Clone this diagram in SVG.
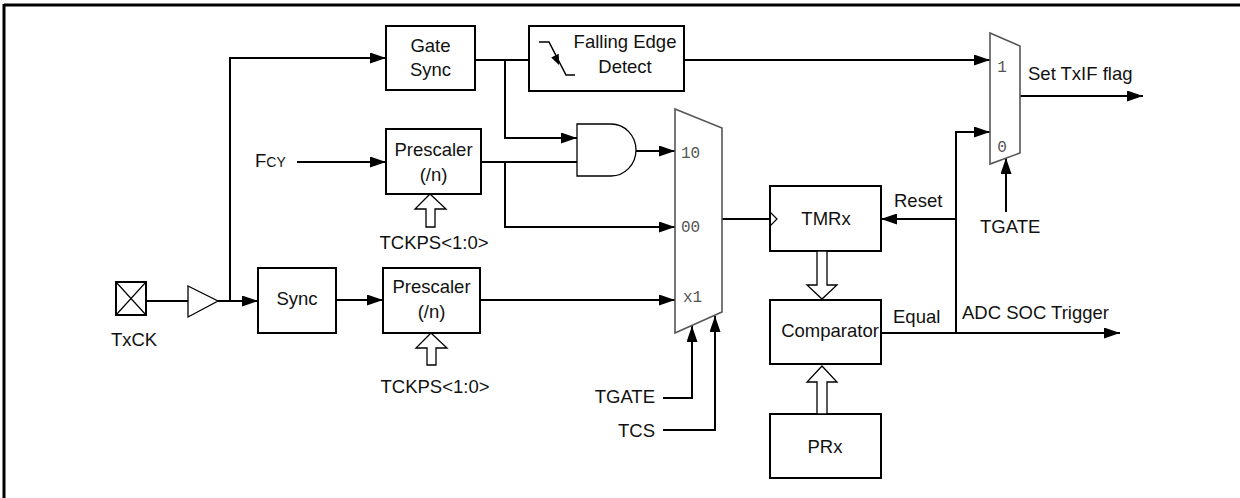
<svg xmlns="http://www.w3.org/2000/svg" width="1240" height="498" viewBox="0 0 1240 498">
<defs>
<marker id="ah" markerUnits="userSpaceOnUse" markerWidth="16" markerHeight="11" refX="16" refY="5.5" orient="auto">
<path d="M0,0 L16,5.5 L0,11 z" fill="#000"/>
</marker>
<style>
.t{font-family:"Liberation Sans",Arial,sans-serif;font-size:18.5px;fill:#111}
.m{font-family:"Liberation Mono","Courier New",monospace;font-size:16px;fill:#555}
.box{fill:#fff;stroke:#000;stroke-width:2}
.thin{fill:#fff;stroke:#000;stroke-width:1.3}
.mux{fill:#fff;stroke:#555;stroke-width:1.6}
.w{fill:none;stroke:#000;stroke-width:2}
.wa{fill:none;stroke:#000;stroke-width:2;marker-end:url(#ah)}
</style>
</defs>
<rect width="1240" height="498" fill="#fff"/>
<g id="frame">
<line x1="4" y1="5" x2="1240" y2="5" stroke="#000" stroke-width="3"/>
<line x1="4" y1="4" x2="4" y2="498" stroke="#000" stroke-width="3"/>
</g>
<g id="connectors">
<path class="w" d="M146,301 H188"/>
<path class="wa" d="M218,301 H258"/>
<path class="wa" d="M230,301 V58 H386"/>
<path class="wa" d="M297,162 H386"/>
<path class="wa" d="M336,300 H383"/>
<path class="w" d="M475,60 H529"/>
<path class="wa" d="M505,60 V138 H577"/>
<path class="wa" d="M684,60 H990"/>
<path class="w" d="M481,162 H577"/>
<path class="wa" d="M505,162 V227 H675"/>
<path class="wa" d="M636,151 H675"/>
<path class="wa" d="M480,300 H675"/>
<path class="wa" d="M663,398 H692 V326"/>
<path class="wa" d="M663,430 H715 V316"/>
<path class="w" d="M722,219 H770"/>
<path class="wa" d="M956,219 H881"/>
<path class="wa" d="M881,333 H1120"/>
<path class="wa" d="M956,333 V132 H990"/>
<path class="wa" d="M1020,96 H1143"/>
<path class="wa" d="M1006,212 V158"/>
</g>
<g id="txck">
<rect x="116" y="282" width="30" height="33" class="box"/>
<path d="M116,282 L146,315 M146,282 L116,315" stroke="#000" stroke-width="1.2"/>
<text class="t" x="134" y="346" text-anchor="middle">TxCK</text>
</g>
<g id="buffer">
<polygon points="188,286 218,301 188,317" class="thin"/>
</g>
<g id="gate-sync">
<rect x="386" y="26" width="89" height="64" class="box"/>
<text class="t" x="430.5" y="52" text-anchor="middle">Gate</text>
<text class="t" x="430.5" y="76" text-anchor="middle">Sync</text>
</g>
<g id="falling-edge">
<rect x="529" y="26" width="155" height="65" class="box"/>
<polyline points="539,42 549,42 566,75 575,75" fill="none" stroke="#000" stroke-width="1.5"/>
<polygon points="559,65 551.2,57.6 558.8,53.8" fill="#000"/>
<text class="t" x="625" y="48" text-anchor="middle">Falling Edge</text>
<text class="t" x="625" y="73" text-anchor="middle">Detect</text>
</g>
<g id="fcy">
<text class="t" x="255" y="167">F<tspan font-size="14">CY</tspan></text>
</g>
<g id="prescaler1">
<rect x="386" y="129" width="95" height="65" class="box"/>
<text class="t" x="433.5" y="156" text-anchor="middle">Prescaler</text>
<text class="t" x="433.5" y="181" text-anchor="middle">(/n)</text>
<polygon points="430,194 446,209 435,209 435,227 426,227 426,209 415,209" class="thin"/>
<text class="t" x="434" y="249" text-anchor="middle">TCKPS&lt;1:0&gt;</text>
</g>
<g id="sync">
<rect x="258" y="268" width="78" height="65" class="box"/>
<text class="t" x="297" y="305" text-anchor="middle">Sync</text>
</g>
<g id="prescaler2">
<rect x="383" y="268" width="97" height="65" class="box"/>
<text class="t" x="431.5" y="293" text-anchor="middle">Prescaler</text>
<text class="t" x="431.5" y="318" text-anchor="middle">(/n)</text>
<polygon points="431,333 447,348 436,348 436,365 427,365 427,348 416,348" class="thin"/>
<text class="t" x="435" y="393" text-anchor="middle">TCKPS&lt;1:0&gt;</text>
</g>
<g id="and-gate">
<path d="M577,124 H611 A25,26 0 0 1 611,176 H577 Z" class="thin"/>
</g>
<g id="mux1">
<polygon points="675,109 722,128 722,312 675,333" class="mux"/>
<text class="m" x="681" y="158">10</text>
<text class="m" x="681" y="232">00</text>
<text class="m" x="683" y="302">x1</text>
</g>
<g id="tgate-tcs">
<text class="t" x="655" y="403" text-anchor="end">TGATE</text>
<text class="t" x="655" y="437" text-anchor="end">TCS</text>
</g>
<g id="tmrx">
<rect x="770" y="186" width="111" height="65" class="box"/>
<polyline points="770,212 777,219 770,226" fill="none" stroke="#000" stroke-width="1.2"/>
<text class="t" x="826" y="225" text-anchor="middle">TMRx</text>
<text class="t" x="894" y="207">Reset</text>
</g>
<g id="tmr-to-comp">
<polygon points="817,251 827,251 827,285 837,285 822,299 807,285 817,285" class="thin"/>
</g>
<g id="comparator">
<rect x="770" y="300" width="111" height="64" class="box"/>
<text class="t" x="830" y="337" text-anchor="middle">Comparator</text>
<text class="t" x="893" y="323">Equal</text>
<text class="t" x="962" y="319">ADC SOC Trigger</text>
</g>
<g id="prx">
<rect x="770" y="414" width="111" height="64" class="box"/>
<text class="t" x="825" y="453" text-anchor="middle">PRx</text>
<polygon points="817,414 827,414 827,382 837,382 822,366 807,382 817,382" class="thin"/>
</g>
<g id="mux2">
<polygon points="990,33 1020,46 1020,153 990,164" class="mux"/>
<text class="m" x="1002" y="72" text-anchor="middle">1</text>
<text class="m" x="1002" y="152" text-anchor="middle">0</text>
<text class="t" x="1028" y="80">Set TxIF flag</text>
<text class="t" x="980" y="233">TGATE</text>
</g>
</svg>
